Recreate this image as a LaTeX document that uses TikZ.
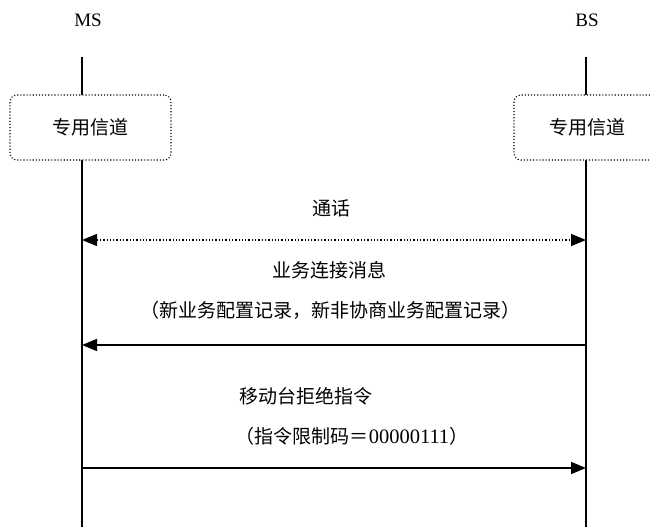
\documentclass[tikz,border=0pt]{standalone}
\usepackage{fontspec}
\setmainfont{Liberation Serif}
\newfontfamily\cjk{Noto Sans CJK SC}
\usetikzlibrary{arrows.meta}
\tikzset{
  lbl/.style={font=\fontsize{19}{22}\selectfont, inner sep=0pt},
  ctext/.style={font=\cjk\fontsize{19}{22}\selectfont, inner sep=0pt},
  life/.style={line width=1.6pt},
  chan/.style={draw, dotted, line width=1.1pt, rounded corners=7pt, fill=white,
    minimum height=65pt, font=\cjk\fontsize{19}{22}\selectfont},
  msg/.style={line width=1.6pt, -{Triangle[length=15pt,width=12pt]}},
  msgboth/.style={line width=1.3pt, dotted, {Triangle[length=15pt,width=12pt]}-{Triangle[length=15pt,width=12pt]}}
}
\begin{document}
\begin{tikzpicture}[x=1pt,y=-1pt]
\useasboundingbox (0,0) rectangle (651,527);
\clip (0,0) rectangle (651,527);
\node[lbl] (ms) at (88,20) {MS};
\node[lbl] (bs) at (587,20) {BS};
\coordinate (mstop) at (82,57);
\coordinate (msbot) at (82,527);
\coordinate (bstop) at (586,57);
\coordinate (bsbot) at (586,527);
\draw[life] (mstop) -- (msbot);
\draw[life] (bstop) -- (bsbot);
\node[chan, minimum width=161pt] (msch) at (90.5,127.5) {专用信道};
\node[chan, minimum width=146pt] (bsch) at (587,127.5) {专用信道};
% call
\node[ctext] (t1) at (331,208) {通话};
\coordinate (m1) at (82,240);
\coordinate (b1) at (586,240);
\draw[msgboth] (m1) -- (b1);
% service connect
\node[ctext] (t2) at (329,270) {业务连接消息};
\node[ctext] (t3) at (330,310) {（新业务配置记录，新非协商业务配置记录）};
\coordinate (m2) at (82,345);
\coordinate (b2) at (586,345);
\draw[msg] (b2) -- (m2);
% reject
\node[ctext] (t4) at (306,396) {移动台拒绝指令};
\node[ctext] (t5) at (352,436) {（指令限制码＝{\rmfamily\fontsize{20.5}{22}\selectfont 00000111}）};
\coordinate (m3) at (82,468);
\coordinate (b3) at (586,468);
\draw[msg] (m3) -- (b3);
\end{tikzpicture}
\end{document}
